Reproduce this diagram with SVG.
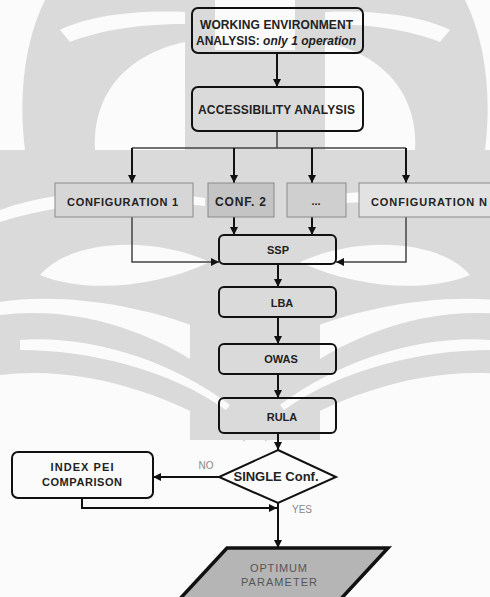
<svg xmlns="http://www.w3.org/2000/svg" width="490" height="597" viewBox="0 0 490 597">
  <defs>
    <marker id="arrow" viewBox="0 0 8 8" refX="8" refY="4" markerWidth="8" markerHeight="8" markerUnits="userSpaceOnUse" orient="auto">
      <path d="M0,0 L8,4 L0,8 Z" fill="#111"/>
    </marker>
    <g id="wm-half">
      <!-- left half of the background emblem -->
      <path d="M45,0 L215,0 L215,150 L25,150 C18,95 25,40 45,0 Z"/>
      <path d="M0,150 L215,150 L215,335 C150,305 60,292 0,302 Z"/>
      <path d="M0,315 C80,305 170,332 245,400 L245,442 C170,392 80,365 0,375 Z"/>
      <path d="M190,50 L255,50 L255,440 L190,440 Z"/>
    </g>
    <g id="wm-cut">
      <!-- light openings cut into the emblem -->
      <path d="M95,150 C92,95 125,55 185,42 L185,150 Z"/>
      <path d="M60,30 C90,15 140,10 185,12 L185,24 C140,24 100,30 70,42 Z"/>
      <path d="M40,275 C70,240 150,235 210,262 C150,290 80,292 40,275 Z"/>
      <path d="M0,210 C60,188 140,188 205,198 L205,206 C140,198 60,202 0,222 Z"/>
      <path d="M20,340 C90,335 170,360 230,405 L226,410 C170,370 90,350 20,350 Z"/>
    </g>
  </defs>
  <style>
    .box { fill: none; stroke: #111; stroke-width: 2; }
    .conf { stroke: #8a8a8a; stroke-width: 1; }
    .t { font-family: "Liberation Sans", Arial, sans-serif; font-weight: bold; font-size: 11px; fill: #222; text-anchor: middle; }
    .big { font-size: 12px; }
    .lbl { font-family: "Liberation Sans", Arial, sans-serif; font-size: 10px; fill: #888; text-anchor: middle; }
    .out { font-family: "Liberation Sans", Arial, sans-serif; font-size: 11px; fill: #555; text-anchor: middle; }
    .flow { fill: none; stroke: #111; stroke-width: 2; }
    .thin { fill: none; stroke: #444; stroke-width: 1.5; }
  </style>

  <rect x="0" y="0" width="490" height="597" fill="#fbfbfb"/>

  <!-- background emblem -->
  <g id="emblem">
    <g fill="#dadada">
      <use href="#wm-half"/>
      <use href="#wm-half" transform="translate(510,0) scale(-1,1)"/>
    </g>
    <g fill="#fbfbfb">
      <use href="#wm-cut"/>
      <use href="#wm-cut" transform="translate(510,0) scale(-1,1)"/>
    </g>
  </g>

  <!-- connectors -->
  <g id="connectors">
    <path class="flow" d="M277,53 V87" marker-end="url(#arrow)"/>
    <path class="thin" d="M277,131 V148 M132,148 H406"/>
    <path class="flow" d="M132,148 V183" marker-end="url(#arrow)"/>
    <path class="flow" d="M234,148 V183" marker-end="url(#arrow)"/>
    <path class="flow" d="M312,148 V183" marker-end="url(#arrow)"/>
    <path class="flow" d="M406,148 V183" marker-end="url(#arrow)"/>
    <path class="flow" d="M234,217 V235" marker-end="url(#arrow)"/>
    <path class="flow" d="M312,217 V235" marker-end="url(#arrow)"/>
    <path class="thin" d="M132,217 V262 H219" marker-end="url(#arrow)"/>
    <path class="thin" d="M406,217 V262 H336" marker-end="url(#arrow)"/>
    <path class="flow" d="M278,264 V287" marker-end="url(#arrow)"/>
    <path class="flow" d="M278,317 V344" marker-end="url(#arrow)"/>
    <path class="flow" d="M278,374 V398" marker-end="url(#arrow)"/>
    <path class="flow" d="M278,433 V450" marker-end="url(#arrow)"/>
    <path class="flow" d="M219,477 H153" marker-end="url(#arrow)"/>
    <path class="flow" d="M82,498 V508 H277" marker-end="url(#arrow)"/>
    <path class="flow" d="M278,503 V548" marker-end="url(#arrow)"/>
    <text class="lbl" x="206" y="469">NO</text>
    <text class="lbl" x="302" y="513">YES</text>
  </g>

  <g id="working-env">
    <rect class="box" x="192" y="8" width="171" height="45" rx="6"/>
    <text class="t big" x="276.5" y="29" textLength="153">WORKING ENVIRONMENT</text>
    <text class="t big" x="276" y="45" textLength="160">ANALYSIS: <tspan font-style="italic">only 1 operation</tspan></text>
  </g>

  <g id="accessibility">
    <rect class="box" x="192" y="87" width="171" height="44" rx="6"/>
    <text class="t big" x="276.5" y="114" textLength="157">ACCESSIBILITY ANALYSIS</text>
  </g>

  <g id="config-1">
    <rect class="conf" x="55" y="183" width="138" height="34" fill="#d6d6d6"/>
    <text class="t" x="122.5" y="206" textLength="111">CONFIGURATION 1</text>
  </g>
  <g id="config-2">
    <rect class="conf" x="208" y="183" width="66" height="34" fill="#c4c4c4"/>
    <text class="t big" x="240.5" y="206" textLength="51">CONF. 2</text>
  </g>
  <g id="config-dots">
    <rect class="conf" x="287" y="183" width="59" height="34" fill="#cfcfcf"/>
    <text class="t" x="316" y="205">...</text>
  </g>
  <g id="config-n">
    <rect class="conf" x="359" y="183" width="132" height="34" fill="#e2e2e2"/>
    <text class="t" x="429" y="206" textLength="116">CONFIGURATION N</text>
  </g>

  <g id="ssp">
    <rect class="box" x="219" y="235" width="117" height="29" rx="5"/>
    <text class="t" x="278" y="254">SSP</text>
  </g>
  <g id="lba">
    <rect class="box" x="219" y="287" width="117" height="30" rx="5"/>
    <text class="t" x="282" y="307">LBA</text>
  </g>
  <g id="owas">
    <rect class="box" x="219" y="344" width="117" height="30" rx="5"/>
    <text class="t" x="281" y="363">OWAS</text>
  </g>
  <g id="rula">
    <rect class="box" x="219" y="398" width="117" height="35" rx="5"/>
    <text class="t" x="282" y="421">RULA</text>
  </g>

  <g id="single-conf">
    <path class="box" d="M278,450 L336,477 L278,503 L219,477 Z" fill="#fbfbfb"/>
    <text class="t" x="276" y="481" style="font-size:13px" textLength="85">SINGLE Conf.</text>
  </g>

  <g id="index-pei">
    <rect class="box" x="12" y="452" width="141" height="46" rx="6"/>
    <text class="t" x="82" y="471" textLength="63">INDEX PEI</text>
    <text class="t" x="82" y="486" textLength="80">COMPARISON</text>
  </g>

  <g id="optimum">
    <path d="M227,548 L388,548 L338,602 L177,602 Z" fill="#b5b5b5" stroke="#111" stroke-width="3.5"/>
    <text class="out" x="278.5" y="572" textLength="57">OPTIMUM</text>
    <text class="out" x="279" y="586" textLength="76">PARAMETER</text>
  </g>
</svg>
